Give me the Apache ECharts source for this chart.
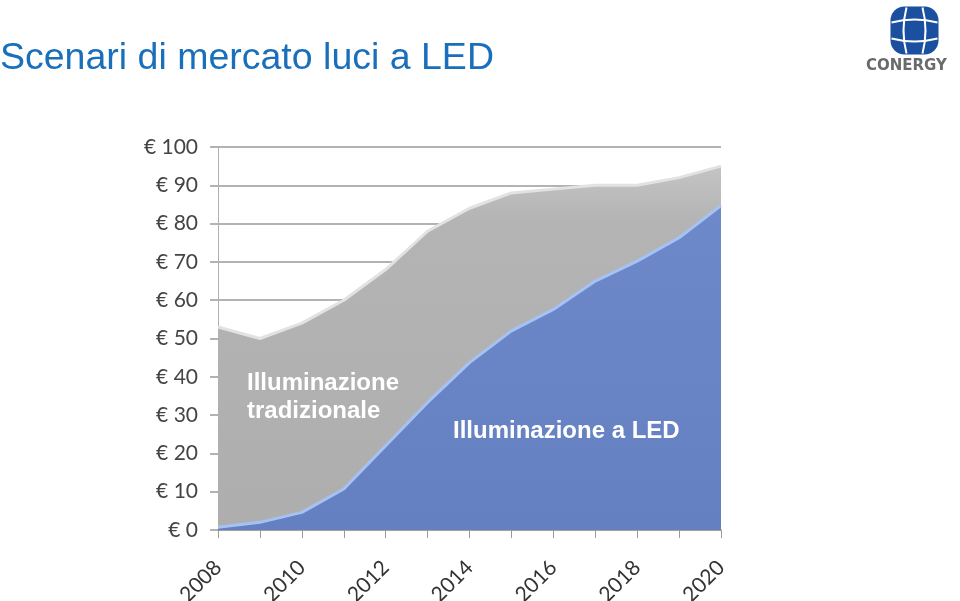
<!DOCTYPE html>
<html>
<head>
<meta charset="utf-8">
<script src="https://cdn.jsdelivr.net/npm/echarts@6/dist/echarts.min.js"></script>
<style>
html,body{margin:0;padding:0;background:#fff;}
#chart{width:960px;height:601px;}
</style>
</head>
<body>
<div id="chart"></div>
<script>
const years = ['2008','2009','2010','2011','2012','2013','2014','2015','2016','2017','2018','2019','2020'];
const totalMarket = [53, 50, 54, 60, 68, 78, 84, 88, 89, 90, 90, 92, 95];
const ledMarket = [0.7, 2, 4.6, 10.7, 22, 33.3, 43.7, 52, 57.6, 65, 70.2, 76.3, 84.7];
const yTicks = [0, 10, 20, 30, 40, 50, 60, 70, 80, 90, 100];

const chart = echarts.init(document.getElementById('chart'));
chart.setOption({
  backgroundColor: '#ffffff',
  animation: false,
  title: {
    text: 'Scenari di mercato luci a LED',
    left: 0, top: 40, padding: 0,
    textStyle: {color: '#1a6fba', fontSize: 37.5, fontWeight: 'normal', fontFamily: 'Liberation Sans'}
  },
  grid: {left: 218, right: 239, top: 147, bottom: 71, outerBoundsMode: 'none', containLabel: false},
  xAxis: {
    type: 'category',
    data: years,
    boundaryGap: false,
    axisLine: {show: true, lineStyle: {color: '#9a9a9a', width: 1.5}},
    axisTick: {show: true, length: 8, interval: 0, lineStyle: {color: '#9a9a9a'}},
    axisLabel: {interval: 1, rotate: 45, margin: 34, fontSize: 21, color: '#333', fontFamily: 'Lato'},
    splitLine: {show: false}
  },
  yAxis: {
    type: 'value',
    min: 0, max: 100, interval: 10,
    axisLine: {show: true, lineStyle: {color: '#b0b0b0', width: 1}},
    axisTick: {show: true, length: 8, lineStyle: {color: '#9a9a9a', width: 1.5}},
    axisLabel: {
      margin: 20, fontSize: 21, color: '#444', fontFamily: 'Lato',
      formatter: v => yTicks.indexOf(v) >= 0 ? '€ ' + v : ''
    },
    splitLine: {show: true, lineStyle: {color: '#9a9a9a', width: 1.5}}
  },
  series: [
    {
      name: 'Illuminazione tradizionale',
      type: 'line',
      data: totalMarket,
      symbol: 'none',
      z: 2,
      lineStyle: {color: '#e2e2e2', width: 3},
      areaStyle: {
        color: {type: 'linear', x: 0, y: 0, x2: 0, y2: 1, colorStops: [
          {offset: 0, color: '#c4c4c4'}, {offset: 0.15, color: '#b4b4b4'}, {offset: 1, color: '#aeaeae'}
        ]},
        opacity: 1
      }
    },
    {
      name: 'Illuminazione a LED',
      type: 'line',
      data: ledMarket,
      symbol: 'none',
      z: 3,
      lineStyle: {color: '#a6c2f4', width: 3},
      areaStyle: {
        color: {type: 'linear', x: 0, y: 0, x2: 0, y2: 1, colorStops: [
          {offset: 0, color: '#6d89c9'}, {offset: 1, color: '#6480c0'}
        ]},
        opacity: 1
      }
    }
  ],
  graphic: [
    {type: 'text', left: 247, top: 369, z: 10,
     style: {text: 'Illuminazione\ntradizionale', fill: '#ffffff', font: 'bold 24px "Liberation Sans"', lineHeight: 28}},
    {type: 'text', left: 453, top: 419, z: 10,
     style: {text: 'Illuminazione a LED', fill: '#ffffff', font: 'bold 24px "Liberation Sans"'}},
    {type: 'group', left: 889, top: 5, z: 10, children: [
      {type: 'rect', shape: {x: 0, y: 0, width: 48, height: 48, r: 14}, style: {fill: '#1b4f9f'}},
      {type: 'bezierCurve', shape: {x1: 16, y1: 1, x2: 16, y2: 47, cpx1: 10, cpy1: 24}, style: {stroke: '#fff', lineWidth: 2, fill: null}},
      {type: 'bezierCurve', shape: {x1: 32, y1: 1, x2: 32, y2: 47, cpx1: 38, cpy1: 24}, style: {stroke: '#fff', lineWidth: 2, fill: null}},
      {type: 'bezierCurve', shape: {x1: 1, y1: 16, x2: 47, y2: 16, cpx1: 24, cpy1: 10}, style: {stroke: '#fff', lineWidth: 2, fill: null}},
      {type: 'bezierCurve', shape: {x1: 1, y1: 32, x2: 47, y2: 32, cpx1: 24, cpy1: 38}, style: {stroke: '#fff', lineWidth: 2, fill: null}}
    ]},
    {type: 'text', left: 866, top: 59, z: 10,
     style: {text: 'CONERGY', fill: '#6a6a6a', font: 'bold 15px "DejaVu Sans"', letterSpacing: 2.5}}
  ]
});
</script>
</body>
</html>
